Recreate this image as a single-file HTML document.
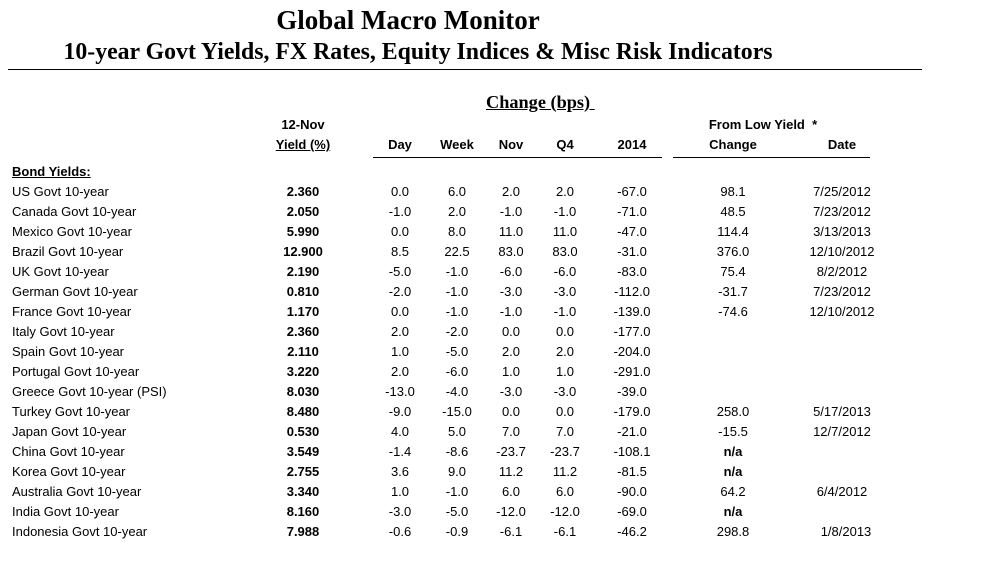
<!DOCTYPE html>
<html><head><meta charset="utf-8"><style>
body{margin:0;width:981px;height:561px;background:#fff;position:relative;overflow:hidden;font-family:"Liberation Sans",sans-serif;font-size:13px;color:#000}
.a{position:absolute;white-space:nowrap}
.t{font-family:"Liberation Serif",serif;font-weight:bold}
.r{position:absolute;left:0;width:981px;height:20px;line-height:20px;margin-top:1px}
.r span{position:absolute;top:0;width:100px;text-align:center}
.n{left:12px;text-align:left!important;width:200px!important}
.y{left:253px;font-weight:bold}
.d{left:350px}.w{left:407px}.v{left:461px}.q{left:515px}.k{left:582px}.c{left:683px}.e{left:792px}
.b{font-weight:bold}
.h{font-weight:bold}
</style></head><body>
<div class="a t" style="left:0;width:816px;text-align:center;top:5px;font-size:27px">Global Macro Monitor</div>
<div class="a t" style="left:0;width:836px;text-align:center;top:39px;font-size:23.8px">10-year Govt Yields, FX Rates, Equity Indices &amp; Misc Risk Indicators</div>
<div class="a" style="left:8px;top:69px;width:914px;height:1px;background:#000"></div>
<div class="a t" style="left:486px;top:92px;font-size:18.3px;text-decoration:underline">Change (bps)&nbsp;</div>
<div class="r" style="top:114px"><span class="y">12-Nov</span><span class="c h" style="left:703px;width:120px">From Low Yield&nbsp; *</span></div>
<div class="r" style="top:134px"><span class="y" style="text-decoration:underline">Yield (%)</span><span class="d h">Day</span><span class="w h">Week</span><span class="v h">Nov</span><span class="q h">Q4</span><span class="k h">2014</span><span class="c h">Change</span><span class="e h">Date</span></div>
<div class="a" style="left:373px;top:157px;width:289px;height:1px;background:#000"></div>
<div class="a" style="left:673px;top:157px;width:197px;height:1px;background:#000"></div>
<div class="r" style="top:161px"><span class="n b" style="text-decoration:underline">Bond Yields:</span></div>
<div class="r" style="top:181px"><span class="n">US Govt 10-year</span><span class="y">2.360</span><span class="d">0.0</span><span class="w">6.0</span><span class="v">2.0</span><span class="q">2.0</span><span class="k">-67.0</span><span class="c">98.1</span><span class="e">7/25/2012</span></div>
<div class="r" style="top:201px"><span class="n">Canada Govt 10-year</span><span class="y">2.050</span><span class="d">-1.0</span><span class="w">2.0</span><span class="v">-1.0</span><span class="q">-1.0</span><span class="k">-71.0</span><span class="c">48.5</span><span class="e">7/23/2012</span></div>
<div class="r" style="top:221px"><span class="n">Mexico Govt 10-year</span><span class="y">5.990</span><span class="d">0.0</span><span class="w">8.0</span><span class="v">11.0</span><span class="q">11.0</span><span class="k">-47.0</span><span class="c">114.4</span><span class="e">3/13/2013</span></div>
<div class="r" style="top:241px"><span class="n">Brazil Govt 10-year</span><span class="y">12.900</span><span class="d">8.5</span><span class="w">22.5</span><span class="v">83.0</span><span class="q">83.0</span><span class="k">-31.0</span><span class="c">376.0</span><span class="e">12/10/2012</span></div>
<div class="r" style="top:261px"><span class="n">UK Govt 10-year</span><span class="y">2.190</span><span class="d">-5.0</span><span class="w">-1.0</span><span class="v">-6.0</span><span class="q">-6.0</span><span class="k">-83.0</span><span class="c">75.4</span><span class="e">8/2/2012</span></div>
<div class="r" style="top:281px"><span class="n">German Govt 10-year</span><span class="y">0.810</span><span class="d">-2.0</span><span class="w">-1.0</span><span class="v">-3.0</span><span class="q">-3.0</span><span class="k">-112.0</span><span class="c">-31.7</span><span class="e">7/23/2012</span></div>
<div class="r" style="top:301px"><span class="n">France Govt 10-year</span><span class="y">1.170</span><span class="d">0.0</span><span class="w">-1.0</span><span class="v">-1.0</span><span class="q">-1.0</span><span class="k">-139.0</span><span class="c">-74.6</span><span class="e">12/10/2012</span></div>
<div class="r" style="top:321px"><span class="n">Italy Govt 10-year</span><span class="y">2.360</span><span class="d">2.0</span><span class="w">-2.0</span><span class="v">0.0</span><span class="q">0.0</span><span class="k">-177.0</span></div>
<div class="r" style="top:341px"><span class="n">Spain Govt 10-year</span><span class="y">2.110</span><span class="d">1.0</span><span class="w">-5.0</span><span class="v">2.0</span><span class="q">2.0</span><span class="k">-204.0</span></div>
<div class="r" style="top:361px"><span class="n">Portugal Govt 10-year</span><span class="y">3.220</span><span class="d">2.0</span><span class="w">-6.0</span><span class="v">1.0</span><span class="q">1.0</span><span class="k">-291.0</span></div>
<div class="r" style="top:381px"><span class="n">Greece Govt 10-year (PSI)</span><span class="y">8.030</span><span class="d">-13.0</span><span class="w">-4.0</span><span class="v">-3.0</span><span class="q">-3.0</span><span class="k">-39.0</span></div>
<div class="r" style="top:401px"><span class="n">Turkey Govt 10-year</span><span class="y">8.480</span><span class="d">-9.0</span><span class="w">-15.0</span><span class="v">0.0</span><span class="q">0.0</span><span class="k">-179.0</span><span class="c">258.0</span><span class="e">5/17/2013</span></div>
<div class="r" style="top:421px"><span class="n">Japan Govt 10-year</span><span class="y">0.530</span><span class="d">4.0</span><span class="w">5.0</span><span class="v">7.0</span><span class="q">7.0</span><span class="k">-21.0</span><span class="c">-15.5</span><span class="e">12/7/2012</span></div>
<div class="r" style="top:441px"><span class="n">China Govt 10-year</span><span class="y">3.549</span><span class="d">-1.4</span><span class="w">-8.6</span><span class="v">-23.7</span><span class="q">-23.7</span><span class="k">-108.1</span><span class="c b">n/a</span></div>
<div class="r" style="top:461px"><span class="n">Korea Govt 10-year</span><span class="y">2.755</span><span class="d">3.6</span><span class="w">9.0</span><span class="v">11.2</span><span class="q">11.2</span><span class="k">-81.5</span><span class="c b">n/a</span></div>
<div class="r" style="top:481px"><span class="n">Australia Govt 10-year</span><span class="y">3.340</span><span class="d">1.0</span><span class="w">-1.0</span><span class="v">6.0</span><span class="q">6.0</span><span class="k">-90.0</span><span class="c">64.2</span><span class="e">6/4/2012</span></div>
<div class="r" style="top:501px"><span class="n">India Govt 10-year</span><span class="y">8.160</span><span class="d">-3.0</span><span class="w">-5.0</span><span class="v">-12.0</span><span class="q">-12.0</span><span class="k">-69.0</span><span class="c b">n/a</span></div>
<div class="r" style="top:521px"><span class="n">Indonesia Govt 10-year</span><span class="y">7.988</span><span class="d">-0.6</span><span class="w">-0.9</span><span class="v">-6.1</span><span class="q">-6.1</span><span class="k">-46.2</span><span class="c">298.8</span><span class="e" style="left:796px">1/8/2013</span></div>
</body></html>
